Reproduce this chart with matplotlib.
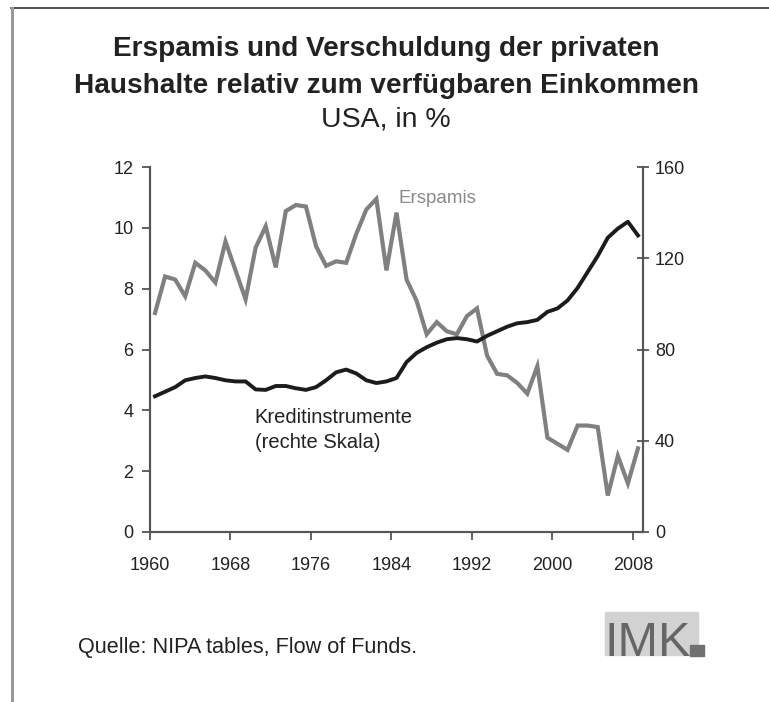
"""Savings and household debt relative to disposable income, USA (IMK chart)."""

import matplotlib
matplotlib.use("Agg")
import matplotlib.pyplot as plt
from matplotlib.lines import Line2D
from matplotlib.patches import Rectangle

plt.rcParams["font.family"] = ["Liberation Sans", "DejaVu Sans"]

years = list(range(1960, 2009))

# Ersparnis (left scale, % of disposable income)
savings = [7.2, 8.4, 8.3, 7.75, 8.85, 8.6, 8.2, 9.55, 8.6, 7.65,
           9.35, 10.05, 8.7, 10.55, 10.75, 10.7, 9.4, 8.75, 8.9, 8.85,
           9.8, 10.6, 10.95, 8.6, 10.5, 8.3, 7.6, 6.5, 6.9, 6.6,
           6.5, 7.1, 7.35, 5.8, 5.2, 5.15, 4.9, 4.55, 5.45, 3.1,
           2.9, 2.7, 3.5, 3.5, 3.45, 1.2, 2.5, 1.6, 2.75]

# Kreditinstrumente (right scale)
credit = [59.5, 61.5, 63.5, 66.5, 67.5, 68.2, 67.5, 66.5, 66.0, 66.0,
          62.5, 62.3, 64.0, 64.0, 63.0, 62.3, 63.5, 66.5, 70.0, 71.2,
          69.5, 66.5, 65.3, 66.0, 67.5, 74.5, 78.5, 81.0, 83.0, 84.5,
          85.0, 84.5, 83.5, 86.0, 88.0, 90.0, 91.5, 92.0, 93.0, 96.5,
          98.0, 101.5, 107.0, 114.0, 121.0, 129.0, 133.0, 136.0, 130.0]

tick_years = [1960, 1968, 1976, 1984, 1992, 2000, 2008]
left_ticks = [0, 2, 4, 6, 8, 10, 12]
right_ticks = [0, 40, 80, 120, 160]

W, H = 769, 702
fig = plt.figure(figsize=(W / 100, H / 100), dpi=100)
ax = fig.add_axes([150 / W, 1 - 532 / H, (643 - 150) / W, (532 - 167) / H])
ax2 = ax.twinx()

spine_col = "#555555"
text_col = "#222222"

ax.plot(years, savings, color="#808080", lw=3.0, solid_joinstyle="miter", zorder=3)
ax2.plot(years, credit, color="#1c1c1c", lw=2.8, zorder=2)

# category-style axis: ticks sit between years
ax.set_xlim(1959.5, 2008.5)
ax.set_xticks([y - 0.5 for y in tick_years])
ax.set_xticklabels([str(y) for y in tick_years])
ax.set_ylim(0, 12)
ax.set_yticks(left_ticks)
ax2.set_ylim(0, 160)
ax2.set_yticks(right_ticks)

for a in (ax, ax2):
    a.spines["top"].set_visible(False)
    for s in ("left", "right", "bottom"):
        a.spines[s].set_color(spine_col)
        a.spines[s].set_linewidth(1.5)
    a.set_facecolor("none")

ax.tick_params(axis="y", direction="out", length=6, width=1.3, color=spine_col,
               labelsize=13, labelcolor=text_col, pad=6)
ax.tick_params(axis="x", direction="out", length=6, width=1.3, color=spine_col,
               labelsize=13, labelcolor=text_col, pad=12)
ax2.tick_params(axis="y", direction="inout", length=9, width=1.3, color=spine_col,
                labelsize=13, labelcolor=text_col, pad=4)

ax.text(1984.2, 10.95, "Erspamis", color="#8a8a8a", fontsize=13.5, va="center")
ax.text(1969.9, 3.75, "Kreditinstrumente", color=text_col, fontsize=14.5, va="center")
ax.text(1969.9, 2.95, "(rechte Skala)", color=text_col, fontsize=14.5, va="center")

# titles
fig.text(0.502, 1 - 49 / H, "Erspamis und Verschuldung der privaten",
         ha="center", va="center", fontsize=20.2, fontweight="bold", color=text_col)
fig.text(0.502, 1 - 86 / H, "Haushalte relativ zum verfügbaren Einkommen",
         ha="center", va="center", fontsize=20.2, fontweight="bold", color=text_col)
fig.text(0.502, 1 - 119 / H, "USA, in %",
         ha="center", va="center", fontsize=20.5, color=text_col)

fig.text(78 / W, 1 - 648 / H, "Quelle: NIPA tables, Flow of Funds.",
         ha="left", va="center", fontsize=15.6, color=text_col)

# IMK logo
fig.patches.append(Rectangle((605 / W, 1 - 655 / H), 93 / W, 43 / H,
                             transform=fig.transFigure, color="#d2d2d2", zorder=0))
fig.patches.append(Rectangle((690 / W, 1 - 656 / H), 14 / W, 11 / H,
                             transform=fig.transFigure, color="#707070", zorder=2))
fig.text(648 / W, 1 - 656 / H, "IMK", ha="center", va="baseline",
         fontsize=35, color="#666666", zorder=3)

# frame
fig.lines.append(Line2D([11 / W, 1], [1 - 8 / H, 1 - 8 / H], transform=fig.transFigure,
                        color="#333333", lw=1.2))
fig.lines.append(Line2D([12 / W, 12 / W], [0, 1 - 8 / H], transform=fig.transFigure,
                        color="#999999", lw=2.2))

fig.savefig("out.png", dpi=100)
